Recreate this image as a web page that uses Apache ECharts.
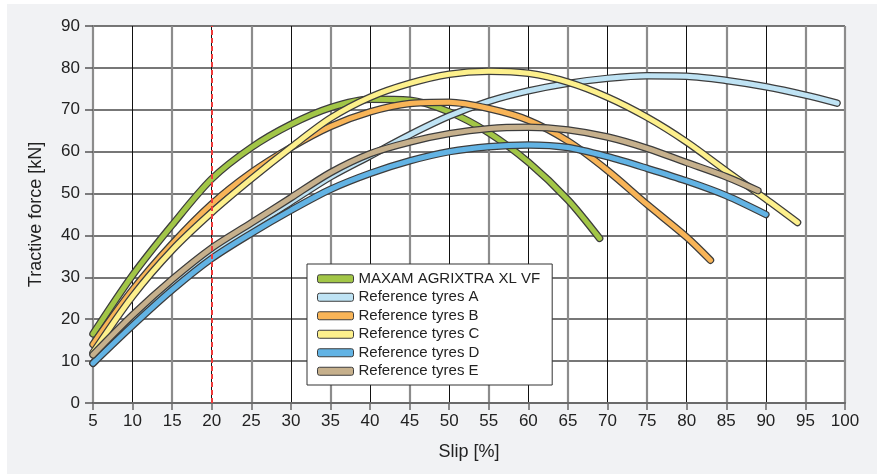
<!DOCTYPE html>
<html>
<head>
<meta charset="utf-8">
<script src="https://cdn.jsdelivr.net/npm/echarts@6/dist/echarts.min.js"></script>
<style>
  html, body { margin: 0; padding: 0; background: #ffffff; }
  #panel { position: absolute; left: 7px; top: 4px; width: 870px; height: 470px; background: #f1f2f4; }
  #chart { position: absolute; left: 0; top: 0; width: 880px; height: 475px; }
</style>
</head>
<body>
<div id="panel"></div>
<div id="chart"></div>
<script type="text/javascript">
  // values (slip %, tractive force kN)
  var seriesNames = ['MAXAM AGRIXTRA XL VF', 'Reference tyres A', 'Reference tyres B',
                     'Reference tyres C', 'Reference tyres D', 'Reference tyres E'];
  var seriesColors = ['#a2c647', '#bfe3f4', '#f8b457', '#fdf08c', '#62b3e4', '#c6b08c'];

  var maxamSlip  = [5, 10, 15, 20, 25, 30, 35, 40, 45, 50, 55, 60, 65, 69];
  var maxamForce = [16.5, 30.5, 42.5, 53.5, 61, 66.5, 70.5, 72.5, 72.3, 69.5, 64.5, 57.5, 48.5, 39.3];

  var tyreASlip  = [5, 10, 15, 20, 25, 30, 35, 40, 45, 50, 55, 60, 65, 70, 75, 80, 85, 90, 95, 99];
  var tyreAForce = [9.5, 19.5, 28, 35.5, 42, 48, 54, 59, 64, 68.5, 72, 74.5, 76.3, 77.5, 78.1, 78, 77, 75.5, 73.5, 71.6];

  var tyreBSlip  = [5, 10, 15, 20, 25, 30, 35, 40, 45, 50, 55, 60, 65, 70, 75, 80, 83];
  var tyreBForce = [14, 27, 38, 47.5, 55, 61, 66, 69.5, 71.5, 71.8, 70.3, 67.5, 62.5, 55.5, 47.4, 39.6, 34.1];

  var tyreCSlip  = [5, 10, 15, 20, 25, 30, 35, 40, 45, 50, 55, 60, 65, 70, 75, 80, 85, 90, 94];
  var tyreCForce = [12, 25.5, 36.5, 45.5, 53.5, 61, 68, 73, 76.3, 78.5, 79.2, 78.7, 76.6, 73, 68.2, 62.3, 55.4, 48.7, 43.1];

  var tyreDSlip  = [5, 10, 15, 20, 25, 30, 35, 40, 45, 50, 55, 60, 65, 70, 75, 80, 85, 90];
  var tyreDForce = [9.5, 18.5, 27, 34.5, 40.5, 46, 51, 54.8, 57.8, 60, 61.2, 61.6, 61, 58.8, 56, 53, 49.5, 45];

  var tyreESlip  = [5, 10, 15, 20, 25, 30, 35, 40, 45, 50, 55, 60, 65, 70, 75, 80, 85, 89];
  var tyreEForce = [11.5, 21, 29.5, 37, 43, 49, 55, 59.5, 62.3, 64.3, 65.5, 65.8, 65.2, 63.5, 60.8, 57.4, 54, 50.7];

  var referenceSlip = 20;

  function pairs(xs, ys) {
    var out = [];
    for (var i = 0; i < xs.length; i++) {
      out.push([xs[i], ys[i]]);
    }
    return out;
  }

  var curves = [
    pairs(maxamSlip, maxamForce),
    pairs(tyreASlip, tyreAForce),
    pairs(tyreBSlip, tyreBForce),
    pairs(tyreCSlip, tyreCForce),
    pairs(tyreDSlip, tyreDForce),
    pairs(tyreESlip, tyreEForce)
  ];

  // each tyre is a dark wide line with the coloured line drawn on top of it
  var series = [];
  for (var i = 0; i < curves.length; i++) {
    series.push({
      name: 'outline' + i,
      type: 'line',
      data: curves[i],
      smooth: 0.3,
      showSymbol: false,
      silent: true,
      z: 2,
      lineStyle: { color: '#3d3d3d', width: 7.5, cap: 'round', join: 'round' }
    });
    series.push({
      name: seriesNames[i],
      type: 'line',
      data: curves[i],
      smooth: 0.3,
      showSymbol: false,
      z: 2,
      color: seriesColors[i],
      lineStyle: { color: seriesColors[i], width: 5, cap: 'round', join: 'round' }
    });
  }
  // red dashed reference line at 20 % slip
  series.push({
    name: 'ref',
    type: 'line',
    data: [],
    z: 5,
    markLine: {
      silent: true,
      symbol: 'none',
      label: { show: false },
      lineStyle: { color: '#ef3b3b', type: [5, 3], width: 2 },
      data: [{ xAxis: referenceSlip }]
    }
  });

  var myChart = echarts.init(document.getElementById('chart'), null, { renderer: 'canvas' });

  var option = {
    backgroundColor: 'transparent',
    animation: false,
    grid: {
      left: 93, right: 35, top: 26, bottom: 72,
      show: true, backgroundColor: '#ffffff', borderWidth: 0
    },
    legend: {
      data: seriesNames,
      orient: 'vertical',
      left: 307,
      top: 264,
      backgroundColor: '#ffffff',
      borderColor: '#333333',
      borderWidth: 1,
      padding: [6, 12, 5, 10],
      itemGap: 1,
      itemWidth: 36,
      itemHeight: 8,
      icon: 'roundRect',
      itemStyle: { borderColor: '#3d3d3d', borderWidth: 1 },
      textStyle: { fontFamily: 'Liberation Sans', fontSize: 15, color: '#222', lineHeight: 17.5 }
    },
    xAxis: [
      {
        type: 'value',
        min: 5, max: 100, interval: 5,
        name: 'Slip [%]',
        nameLocation: 'middle',
        nameGap: 40,
        nameTextStyle: { fontFamily: 'Liberation Sans', fontSize: 18, color: '#222' },
        axisLine: { show: true, lineStyle: { color: '#6a6a6a', width: 2 } },
        axisTick: { show: true, inside: false, length: 7, lineStyle: { color: '#6a6a6a', width: 1.5 } },
        axisLabel: { fontFamily: 'Liberation Sans', fontSize: 17, color: '#222', margin: 10 },
        splitLine: { show: true, lineStyle: { color: ['rgba(0,0,0,0)', '#111111'], width: 1 } }
      },
      {
        // second axis only to draw the grey odd grid lines (5, 15, 25 ...)
        type: 'value',
        min: 5, max: 100, interval: 10,
        position: 'bottom',
        axisLine: { show: false },
        axisTick: { show: false },
        axisLabel: { show: false },
        splitLine: { show: true, lineStyle: { color: '#8c8c8c', width: 2.2 } }
      }
    ],
    yAxis: {
      type: 'value',
      min: 0, max: 90, interval: 10,
      name: 'Tractive force [kN]',
      nameLocation: 'middle',
      nameGap: 48,
      nameTextStyle: { fontFamily: 'Liberation Sans', fontSize: 18, color: '#222' },
      axisLine: { show: true, lineStyle: { color: '#8c8c8c', width: 2 } },
      axisTick: { show: true, inside: false, length: 8, lineStyle: { color: '#555', width: 1.5 } },
      axisLabel: { fontFamily: 'Liberation Sans', fontSize: 17, color: '#222', margin: 13 },
      splitLine: { show: true, lineStyle: { color: '#4a4a4a', width: 1.5 } }
    },
    series: series
  };
  myChart.setOption(option);
</script>
</body>
</html>
